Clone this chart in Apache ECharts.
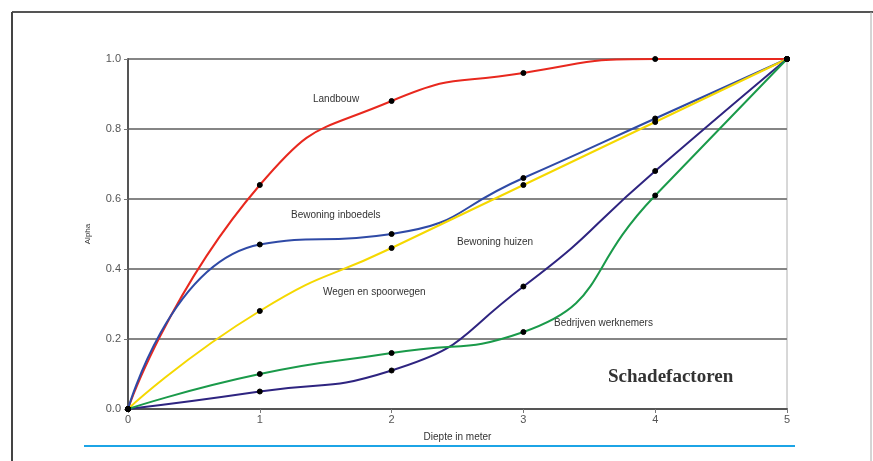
<!DOCTYPE html>
<html><head><meta charset="utf-8">
<script src="https://cdn.jsdelivr.net/npm/echarts@6/dist/echarts.min.js"></script>
<style>html,body{margin:0;padding:0;background:#fff}#c{width:873px;height:461px}</style>
</head><body><div id="c"></div>
<script>
const depths = [0, 1, 2, 3, 4, 5];
const landbouw = [0, 0.64, 0.88, 0.96, 1.0, 1.0];
const inboedels = [0, 0.47, 0.50, 0.66, 0.83, 1.0];
const wegen = [0, 0.28, 0.46, 0.64, 0.82, 1.0];
const huizen = [0, 0.05, 0.11, 0.35, 0.68, 1.0];
const werknemers = [0, 0.10, 0.16, 0.22, 0.61, 1.0];
const seriesNames = ['Landbouw', 'Bewoning inboedels', 'Wegen en spoorwegen', 'Bewoning huizen', 'Bedrijven werknemers'];
const chartTitle = 'Schadefactoren';
const xName = 'Diepte in meter';
const yName = 'Alpha';

const chart = echarts.init(document.getElementById('c'));
function mk(name, vals, color) {
  return {
    name, type: 'line', smooth: 0.55,
    data: depths.map((d, i) => [d, vals[i]]),
    lineStyle: { color, width: 2 },
    itemStyle: { color: '#000', borderColor: '#000' },
    symbol: 'circle', symbolSize: 5, showAllSymbol: true
  };
}
const lbl = (text, x, y) => ({ type: 'text', left: x, top: y, style: { text, fill: '#333', font: '10px "Liberation Sans", Arial' } });
chart.setOption({
  animation: false,
  backgroundColor: '#fff',
  grid: { left: 128, right: 86, top: 59, bottom: 52, show: true, borderColor: '#b0b0b0', borderWidth: 1 },
  xAxis: {
    type: 'value', min: 0, max: 5, interval: 1,
    name: xName, nameLocation: 'middle', nameGap: 23,
    nameTextStyle: { color: '#333', fontSize: 10, fontFamily: 'Liberation Sans' },
    axisLine: { lineStyle: { color: '#555', width: 2 } },
    axisTick: { show: true, length: 4, lineStyle: { color: '#777' } },
    axisLabel: { color: '#555', fontSize: 11, fontFamily: 'Liberation Sans', margin: 5 },
    splitLine: { show: false }
  },
  yAxis: {
    type: 'value', min: 0, max: 1, interval: 0.2,
    name: yName, nameLocation: 'middle', nameGap: 36, nameRotate: 90,
    nameTextStyle: { color: '#333', fontSize: 8, fontFamily: 'Liberation Sans' },
    axisLine: { show: true, lineStyle: { color: '#555', width: 2 } },
    axisTick: { show: true, length: 4, lineStyle: { color: '#777' } },
    axisLabel: { color: '#555', fontSize: 11, fontFamily: 'Liberation Sans', margin: 7, formatter: v => v.toFixed(1) },
    splitLine: { show: true, lineStyle: { color: '#858585', width: 2 } }
  },
  series: [
    mk(seriesNames[0], landbouw, '#e8281e'),
    mk(seriesNames[1], inboedels, '#2f4aa6'),
    mk(seriesNames[2], wegen, '#f5d800'),
    mk(seriesNames[3], huizen, '#2e2480'),
    mk(seriesNames[4], werknemers, '#1a9a4a')
  ],
  graphic: [
    { type: 'line', shape: { x1: 12, y1: 12, x2: 873, y2: 12 }, style: { stroke: '#555', lineWidth: 2 } },
    { type: 'line', shape: { x1: 12, y1: 12, x2: 12, y2: 461 }, style: { stroke: '#444', lineWidth: 2 } },
    { type: 'line', shape: { x1: 871, y1: 12, x2: 871, y2: 461 }, style: { stroke: '#aaa', lineWidth: 1 } },
    { type: 'line', shape: { x1: 84, y1: 446, x2: 795, y2: 446 }, style: { stroke: '#1ca4e6', lineWidth: 2 } },
    lbl(seriesNames[0], 313, 94),
    lbl(seriesNames[1], 291, 210),
    lbl(seriesNames[2], 323, 287),
    lbl(seriesNames[3], 457, 237),
    lbl(seriesNames[4], 554, 318),
    { type: 'text', left: 608, top: 368, style: { text: chartTitle, fill: '#333', font: '600 19px "Liberation Serif", "DejaVu Serif", serif' } }
  ]
});
</script></body></html>
